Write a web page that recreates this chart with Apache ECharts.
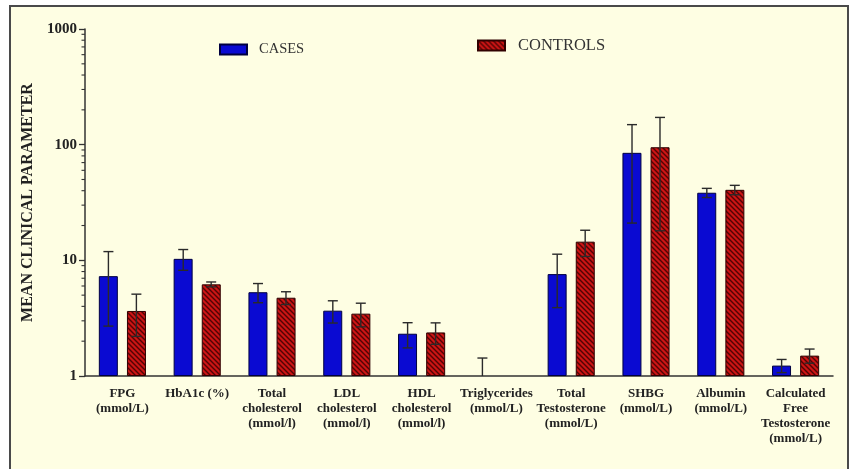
<!DOCTYPE html>
<html>
<head>
<meta charset="utf-8">
<script src="https://cdn.jsdelivr.net/npm/echarts@6/dist/echarts.min.js"></script>
<style>
html,body{margin:0;padding:0;background:#ffffff;}
#chart{width:850px;height:469px;}
</style>
</head>
<body>
<div id="chart"></div>
<script>
// ---- data ----
var categories = [
  'FPG\n(mmol/L)',
  'HbA1c (%)',
  'Total\ncholesterol\n(mmol/l)',
  'LDL\ncholesterol\n(mmol/l)',
  'HDL\ncholesterol\n(mmol/l)',
  'Triglycerides\n(mmol/L)',
  'Total\nTestosterone\n(mmol/L)',
  'SHBG\n(mmol/L)',
  'Albumin\n(mmol/L)',
  'Calculated\nFree\nTestosterone\n(mmol/L)'
];
var casesMean    = [7.3, 10.3, 5.3, 3.67, 2.32, 0.9, 7.6, 85, 38.4, 1.23];
var casesSD      = [4.6, 2.1, 1.0, 0.8, 0.57, 0.53, 3.7, 64, 3.5, 0.16];
var controlsMean = [3.65, 6.2, 4.75, 3.46, 2.38, 0.8, 14.5, 95, 40.7, 1.5];
var controlsSD   = [1.45, 0.3, 0.6, 0.8, 0.5, 0.15, 3.7, 77, 3.8, 0.21];
var yTickValues  = [1, 10, 100, 1000];
var minorTickValues = [2,3,4,5,6,7,8,9,20,30,40,50,60,70,80,90,200,300,400,500,600,700,800,900];
var seriesNames = ['CASES', 'CONTROLS'];

// ---- hatch pattern ----
function makeHatch() {
  var c = document.createElement('canvas');
  var s = 5;
  c.width = s; c.height = s;
  var ctx = c.getContext('2d');
  ctx.fillStyle = '#cc1515';
  ctx.fillRect(0, 0, s, s);
  ctx.strokeStyle = '#520404';
  ctx.lineWidth = 1.4;
  ctx.beginPath();
  ctx.moveTo(0, 0); ctx.lineTo(s, s);
  ctx.moveTo(-s, 0); ctx.lineTo(0, s);
  ctx.moveTo(s, 0); ctx.lineTo(2 * s, s);
  ctx.moveTo(0, -s); ctx.lineTo(s, 0);
  ctx.moveTo(0, s); ctx.lineTo(s, 2*s);
  ctx.stroke();
  return c;
}
var hatch = {image: makeHatch(), repeat: 'repeat'};

var FONT = 'Liberation Serif';
var chart = echarts.init(document.getElementById('chart'), null, {renderer: 'canvas'});

function errorRender(meanArr, sdArr, side) {
  return function (params, api) {
    var i = api.value(0);
    var m = meanArr[i], sd = sdArr[i];
    var hi = m + sd;
    if (hi <= 1) return null;
    var lo = Math.max(m - sd, 1);
    var band = api.size([1, 0])[0];
    var off = band * 0.187 * side;
    var top = api.coord([i, hi]);
    var bot = api.coord([i, lo]);
    var x = top[0] + off;
    var cap = 5;
    var st = {stroke: '#2a2a2a', lineWidth: 1.4};
    var children = [
      {type: 'line', shape: {x1: x, y1: top[1], x2: x, y2: bot[1]}, style: st},
      {type: 'line', shape: {x1: x - cap, y1: top[1], x2: x + cap, y2: top[1]}, style: st}
    ];
    if (m - sd > 1) {
      children.push({type: 'line', shape: {x1: x - cap, y1: bot[1], x2: x + cap, y2: bot[1]}, style: st});
    }
    return {type: 'group', children: children};
  };
}

var option = {
  backgroundColor: '#ffffff',
  animation: false,
  graphic: [
    {type: 'rect', shape: {x: 10, y: 6, width: 838, height: 480}, style: {fill: '#fefee3', stroke: '#4a4a4a', lineWidth: 2}, z: -10}
  ],
  legend: [
    {data: [seriesNames[0]], left: 214, top: 37, padding: 5, icon: 'rect', itemWidth: 27, itemHeight: 10,
     textStyle: {fontFamily: FONT, fontSize: 14.5, color: '#333', padding: [0, 0, 0, 7]}},
    {data: [seriesNames[1]], left: 472, top: 32, padding: 5, icon: 'rect', itemWidth: 27, itemHeight: 10,
     textStyle: {fontFamily: FONT, fontSize: 16.5, color: '#333', padding: [0, 0, 0, 8]}}
  ],
  grid: {left: 85, right: 17, top: 29, bottom: 93, containLabel: false},
  xAxis: {
    type: 'category',
    data: categories,
    axisLine: {lineStyle: {color: '#333', width: 1.5}},
    axisTick: {alignWithLabel: true, length: 6, lineStyle: {color: '#333', width: 1.3}},
    axisLabel: {interval: 0, fontFamily: FONT, fontWeight: 'bold', fontSize: 13, color: '#222', lineHeight: 15, margin: 10, align: 'center'}
  },
  yAxis: {
    type: 'log',
    logBase: 10,
    min: 1, max: 1000,
    name: 'MEAN CLINICAL PARAMETER',
    nameLocation: 'middle',
    nameGap: 47,
    nameTextStyle: {fontFamily: FONT, fontWeight: 'bold', fontSize: 16, color: '#222'},
    axisLine: {show: true, lineStyle: {color: '#333', width: 1.5}},
    axisTick: {show: true, length: 6, lineStyle: {color: '#333', width: 1.3}},
    splitLine: {show: false},
    axisLabel: {fontFamily: FONT, fontWeight: 'bold', fontSize: 15, color: '#222', margin: 8,
      formatter: function (v) { return yTickValues.indexOf(Math.round(v)) >= 0 ? String(Math.round(v)) : ''; }}
  },
  series: [
    {name: seriesNames[0], type: 'bar', data: casesMean, barWidth: 19, barGap: '48%',
     itemStyle: {color: '#0a0ad2', borderColor: '#000040', borderWidth: 1}, clip: true},
    {name: seriesNames[1], type: 'bar', data: controlsMean, barWidth: 19,
     itemStyle: {color: hatch, borderColor: '#300000', borderWidth: 1}, clip: true},
    {type: 'custom', name: 'errCases', data: categories.map(function (c, i) { return [i, casesMean[i]]; }),
     renderItem: errorRender(casesMean, casesSD, -1), z: 5, clip: false, silent: true},
    {type: 'custom', name: 'errControls', data: categories.map(function (c, i) { return [i, controlsMean[i]]; }),
     renderItem: errorRender(controlsMean, controlsSD, 1), z: 5, clip: false, silent: true},
    {type: 'custom', name: 'minorTicks', data: minorTickValues.map(function (v) { return [0, v]; }),
     renderItem: function (params, api) {
       var p = api.coord([0, api.value(1)]);
       var x0 = params.coordSys.x;
       return {type: 'line', shape: {x1: x0 - 3.5, y1: p[1], x2: x0, y2: p[1]}, style: {stroke: '#333', lineWidth: 1.1}};
     }, clip: false, silent: true, z: 5}
  ]
};
chart.setOption(option);
</script>
</body>
</html>
